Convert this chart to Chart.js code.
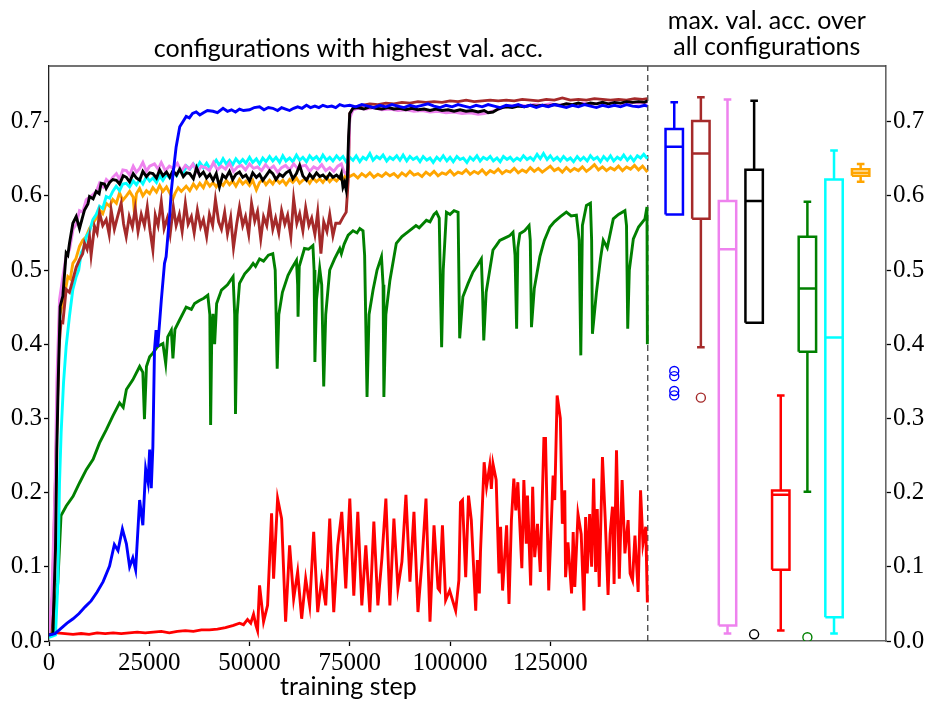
<!DOCTYPE html>
<html>
<head>
<meta charset="utf-8">
<title>val. acc.</title>
<script src="https://cdn.jsdelivr.net/npm/chart.js@4.4.1/dist/chart.umd.min.js"></script>
<style>
  html, body { margin: 0; padding: 0; background: #fff; }
  canvas { display: block; }
</style>
</head>
<body>
<canvas id="chart" width="936" height="713"></canvas>
<script>
// ---- data ----
const LEFT_TITLE = 'configurations with highest val. acc.';
const RIGHT_TITLE = ['max. val. acc. over', 'all configurations'];
const X_TITLE = 'training step';
const X_TICKS = [0, 25000, 50000, 75000, 100000, 125000];
const Y_TICKS = [0, 0.1, 0.2, 0.3, 0.4, 0.5, 0.6, 0.7];

// [training step, val. acc.]
const BLUE = [[0,0.008],[1500,0.010],[3000,0.017],[4500,0.024],[6000,0.030],[7500,0.037],[9000,0.046],[10500,0.054],[12000,0.066],[13500,0.080],[15100,0.101],[16300,0.130],[17200,0.122],[18300,0.151],[19300,0.131],[20100,0.100],[20900,0.112],[21600,0.096],[22600,0.190],[23400,0.156],[24100,0.232],[24700,0.214],[25100,0.258],[25500,0.206],[25900,0.262],[26300,0.392],[26700,0.419],[27100,0.396],[28000,0.459],[28800,0.509],[29200,0.518],[30100,0.575],[30500,0.607],[30900,0.628],[31700,0.666],[32600,0.693],[33500,0.701],[34200,0.707],[35000,0.705],[35800,0.711],[36700,0.713],[37600,0.709],[38500,0.712],[39500,0.715],[40900,0.714],[42000,0.712],[43400,0.718],[44500,0.714],[45500,0.716],[46500,0.713],[47500,0.717],[48500,0.715],[50000,0.716],[51200,0.719],[52500,0.720],[53600,0.716],[54700,0.719],[55800,0.718],[57000,0.715],[58000,0.719],[59000,0.717],[60000,0.715],[61000,0.718],[62000,0.720],[63100,0.718],[64200,0.722],[65200,0.719],[66300,0.721],[67300,0.719],[68300,0.722],[69400,0.720],[70500,0.721],[71500,0.719],[72500,0.723],[73600,0.721],[75000,0.722],[76500,0.720],[78000,0.723],[79500,0.721],[81000,0.719],[82500,0.722],[84000,0.720],[85500,0.723],[87000,0.721],[88500,0.719],[90000,0.722],[91500,0.720],[93000,0.722],[94500,0.724],[96000,0.721],[97500,0.719],[99000,0.722],[100500,0.720],[102000,0.723],[103500,0.721],[105000,0.719],[106500,0.722],[108000,0.720],[109500,0.723],[111000,0.721],[112500,0.719],[114000,0.722],[115500,0.721],[117000,0.723],[118500,0.720],[120000,0.722],[121500,0.719],[123000,0.722],[124500,0.720],[126000,0.723],[127500,0.721],[129000,0.719],[130500,0.722],[132000,0.720],[133500,0.723],[135000,0.721],[136500,0.719],[138000,0.722],[139500,0.720],[141000,0.722],[142500,0.720],[144000,0.723],[145500,0.721],[147000,0.720],[148500,0.722],[149200,0.721]];

const BROWN = [[0,0.008],[700,0.030],[1170,0.124],[1790,0.258],[2450,0.393],[3000,0.430],[3450,0.429],[4280,0.474],[5100,0.470],[5950,0.487],[6800,0.504],[7610,0.514],[8400,0.522],[8860,0.536],[9500,0.528],[10100,0.545],[10500,0.520],[11350,0.559],[12000,0.550],[12600,0.577],[13400,0.560],[14260,0.568],[15000,0.548],[15500,0.581],[16300,0.555],[17000,0.570],[17990,0.590],[18600,0.562],[19250,0.545],[20000,0.572],[20800,0.558],[21500,0.583],[22200,0.552],[23000,0.575],[23800,0.560],[24500,0.585],[25200,0.553],[25900,0.527],[26500,0.574],[27200,0.560],[28000,0.592],[28700,0.556],[29500,0.570],[30200,0.548],[31000,0.585],[31700,0.560],[32500,0.575],[33200,0.552],[34000,0.590],[34700,0.562],[35500,0.572],[36200,0.550],[37000,0.581],[37800,0.558],[38500,0.568],[39300,0.545],[40000,0.575],[40800,0.560],[41500,0.595],[42300,0.565],[43000,0.555],[43800,0.578],[44500,0.549],[45300,0.571],[46000,0.530],[46800,0.562],[47500,0.585],[48300,0.560],[49000,0.572],[49800,0.548],[50500,0.590],[51300,0.566],[52000,0.579],[52800,0.542],[53500,0.572],[54300,0.560],[55000,0.587],[55800,0.555],[56500,0.570],[57300,0.550],[58000,0.580],[58800,0.562],[59500,0.574],[60300,0.545],[61000,0.596],[61800,0.563],[62500,0.576],[63300,0.553],[64000,0.584],[64800,0.560],[65500,0.570],[66300,0.548],[67000,0.578],[67800,0.522],[68500,0.565],[69300,0.552],[70000,0.575],[70800,0.546],[71500,0.563],[72500,0.563],[73300,0.571],[74100,0.578],[74600,0.621],[75000,0.711],[75800,0.718],[76600,0.720],[78000,0.722],[80000,0.724],[82000,0.723],[84000,0.725],[86000,0.724],[88000,0.726],[90000,0.725],[92000,0.727],[94000,0.726],[96000,0.727],[98000,0.726],[100000,0.728],[102000,0.727],[104000,0.729],[106000,0.727],[108000,0.728],[110000,0.729],[112000,0.728],[114000,0.729],[116000,0.728],[118000,0.730],[120000,0.729],[122000,0.728],[124000,0.730],[126000,0.729],[128000,0.732],[130000,0.729],[132000,0.730],[134000,0.729],[136000,0.731],[138000,0.730],[140000,0.729],[142000,0.730],[144000,0.729],[146000,0.731],[148000,0.730],[149200,0.731]];

const VIOLET = [[0,0.008],[700,0.060],[1540,0.213],[1950,0.348],[2620,0.460],[3450,0.491],[4300,0.520],[5100,0.527],[6000,0.555],[6800,0.562],[7600,0.580],[8400,0.578],[9280,0.595],[10100,0.598],[11000,0.602],[11800,0.606],[12600,0.617],[13500,0.612],[14300,0.622],[15100,0.618],[15900,0.625],[16800,0.630],[17600,0.622],[18400,0.635],[19300,0.634],[20100,0.628],[21000,0.640],[21800,0.632],[22600,0.637],[23400,0.645],[24300,0.633],[25100,0.640],[26300,0.643],[27200,0.636],[28000,0.645],[29000,0.634],[30000,0.640],[31000,0.637],[32000,0.644],[33000,0.633],[34000,0.641],[35000,0.636],[35900,0.643],[37000,0.632],[38000,0.640],[39000,0.638],[40000,0.634],[41000,0.645],[42000,0.635],[43000,0.640],[44000,0.636],[45000,0.644],[46000,0.633],[47000,0.639],[48000,0.641],[49000,0.635],[50000,0.643],[51000,0.637],[52000,0.639],[53000,0.634],[54000,0.642],[55000,0.636],[56000,0.640],[57000,0.632],[58000,0.638],[59000,0.641],[60000,0.635],[61000,0.643],[62000,0.637],[63000,0.640],[64000,0.641],[65000,0.633],[66000,0.639],[67000,0.636],[68000,0.642],[69000,0.634],[70000,0.638],[71000,0.633],[72000,0.640],[72900,0.643],[73600,0.632],[74300,0.628],[74700,0.660],[75000,0.705],[75800,0.716],[77000,0.718],[79000,0.717],[81000,0.719],[83000,0.716],[85000,0.717],[87000,0.715],[89000,0.716],[91000,0.714],[93000,0.715],[95000,0.713],[97000,0.714],[99000,0.712],[101000,0.713],[103000,0.711],[105000,0.712],[107000,0.710],[108500,0.711],[110000,0.713],[111500,0.716],[113000,0.719],[115000,0.721],[117000,0.722],[119000,0.721],[121000,0.723],[123000,0.722],[125000,0.724],[127000,0.722],[129000,0.724],[131000,0.723],[133000,0.725],[135000,0.723],[137000,0.725],[139000,0.724],[141000,0.726],[143000,0.724],[145000,0.726],[147000,0.725],[149200,0.726]];

const BLACK = [[0,0.008],[960,0.010],[1620,0.124],[1950,0.258],[2290,0.348],[2790,0.451],[3450,0.465],[4280,0.523],[4700,0.520],[5110,0.536],[5950,0.563],[6780,0.572],[7610,0.556],[8300,0.570],[8860,0.581],[9700,0.589],[10100,0.599],[11000,0.596],[11770,0.606],[12500,0.603],[13000,0.617],[13800,0.616],[14260,0.610],[15100,0.618],[15920,0.622],[16800,0.621],[17600,0.616],[18500,0.627],[19300,0.625],[20100,0.619],[21000,0.630],[21800,0.624],[22600,0.621],[23400,0.633],[24300,0.626],[25100,0.631],[25900,0.630],[26800,0.624],[27600,0.635],[28400,0.627],[29300,0.632],[30100,0.625],[30900,0.634],[31800,0.628],[32600,0.636],[33500,0.626],[34300,0.631],[35100,0.630],[36000,0.623],[36800,0.638],[37600,0.627],[38500,0.632],[39300,0.624],[40100,0.629],[40900,0.621],[41700,0.630],[42500,0.612],[43300,0.628],[44100,0.624],[45000,0.633],[45800,0.622],[46600,0.629],[47500,0.632],[48300,0.625],[49100,0.628],[50000,0.620],[50800,0.631],[51700,0.625],[52500,0.629],[53300,0.621],[54100,0.627],[55000,0.634],[55800,0.630],[56600,0.622],[57500,0.629],[58300,0.626],[59100,0.631],[60000,0.634],[60800,0.623],[61700,0.630],[62500,0.641],[63300,0.627],[64200,0.621],[65000,0.629],[65800,0.624],[66700,0.631],[67500,0.626],[68300,0.628],[69200,0.623],[70000,0.630],[70800,0.625],[71700,0.628],[72500,0.624],[72900,0.630],[73300,0.612],[73700,0.618],[74100,0.608],[74400,0.625],[74700,0.680],[75000,0.711],[75800,0.718],[77000,0.719],[78500,0.717],[80000,0.720],[81500,0.718],[83000,0.717],[84500,0.719],[86000,0.717],[87500,0.718],[89000,0.716],[90500,0.718],[92000,0.716],[93500,0.717],[95000,0.715],[96500,0.717],[98000,0.715],[99500,0.716],[101000,0.714],[102500,0.716],[104000,0.714],[105500,0.715],[107000,0.713],[108500,0.715],[109500,0.712],[110700,0.713],[112000,0.717],[113000,0.719],[114000,0.720],[115500,0.719],[117000,0.721],[118500,0.720],[120000,0.722],[121500,0.721],[123000,0.722],[124500,0.721],[126000,0.723],[127500,0.722],[129000,0.724],[130500,0.723],[132000,0.725],[133500,0.723],[135000,0.725],[136500,0.724],[138000,0.726],[139500,0.724],[141000,0.726],[142500,0.725],[144000,0.727],[145500,0.726],[147000,0.727],[148500,0.726],[149200,0.728]];

const RED = [[0,0.012],[2000,0.011],[4000,0.010],[6000,0.009],[8000,0.010],[10000,0.009],[12000,0.011],[14000,0.010],[16000,0.011],[18000,0.010],[20000,0.011],[22000,0.012],[24000,0.011],[26000,0.012],[28000,0.013],[30000,0.011],[32000,0.013],[34000,0.014],[36000,0.013],[38000,0.015],[40000,0.015],[42000,0.016],[44000,0.018],[46000,0.021],[47500,0.024],[48500,0.022],[49500,0.029],[50300,0.024],[51000,0.036],[51600,0.021],[52000,0.014],[52500,0.075],[53500,0.026],[54500,0.048],[55500,0.172],[56000,0.084],[57000,0.192],[58000,0.165],[59000,0.026],[60000,0.129],[61000,0.057],[62000,0.093],[63000,0.030],[64000,0.084],[65000,0.048],[66000,0.147],[67000,0.039],[68000,0.084],[69000,0.048],[70000,0.165],[71000,0.039],[72000,0.129],[73000,0.174],[74000,0.071],[75000,0.192],[76000,0.061],[77000,0.174],[78000,0.048],[79000,0.129],[80000,0.039],[81000,0.161],[82000,0.048],[83000,0.111],[84000,0.192],[85000,0.048],[86000,0.165],[87000,0.071],[88000,0.107],[89000,0.197],[90000,0.080],[91000,0.174],[92000,0.039],[93000,0.107],[94000,0.192],[95000,0.026],[96000,0.156],[97000,0.071],[97400,0.068],[98100,0.156],[98900,0.055],[99900,0.068],[101400,0.041],[102200,0.082],[102600,0.187],[103100,0.190],[103900,0.086],[104600,0.196],[105300,0.163],[106400,0.041],[106800,0.109],[107300,0.064],[107600,0.122],[108500,0.241],[109100,0.208],[109900,0.237],[110300,0.205],[110700,0.239],[111500,0.217],[112200,0.091],[112600,0.154],[113100,0.068],[114100,0.156],[114700,0.050],[115300,0.163],[115900,0.219],[116400,0.176],[116900,0.214],[117900,0.098],[118400,0.217],[119000,0.131],[119300,0.196],[120100,0.075],[120600,0.208],[121100,0.113],[121800,0.158],[122500,0.093],[123400,0.273],[123800,0.273],[124600,0.068],[125700,0.223],[126100,0.190],[126700,0.331],[127500,0.300],[128000,0.158],[128600,0.203],[128800,0.086],[129400,0.133],[130300,0.064],[130700,0.147],[131100,0.073],[131900,0.171],[132700,0.144],[133400,0.041],[133800,0.167],[134200,0.091],[134800,0.171],[135300,0.100],[135800,0.219],[136300,0.093],[136700,0.178],[137200,0.073],[138000,0.248],[138700,0.163],[139400,0.062],[139900,0.144],[140500,0.181],[140900,0.077],[141500,0.257],[142200,0.084],[142900,0.217],[143600,0.118],[144400,0.163],[144900,0.091],[145500,0.082],[146100,0.142],[146900,0.066],[147500,0.203],[148100,0.131],[148800,0.154],[149200,0.052]];

const GREEN = [[0,0.005],[1000,0.010],[2200,0.079],[3000,0.169],[4300,0.182],[6000,0.195],[7600,0.213],[9300,0.231],[11000,0.245],[12600,0.267],[14300,0.285],[15900,0.303],[17600,0.321],[18500,0.315],[19300,0.339],[20900,0.352],[22600,0.370],[23400,0.362],[23800,0.299],[24300,0.370],[25100,0.383],[25900,0.388],[27100,0.397],[28400,0.401],[29100,0.374],[29600,0.410],[30500,0.419],[30900,0.381],[31400,0.420],[32500,0.432],[34200,0.450],[35500,0.447],[36300,0.455],[37500,0.459],[38600,0.462],[39600,0.466],[40100,0.440],[40300,0.291],[40600,0.420],[40900,0.441],[41300,0.400],[41800,0.455],[43000,0.473],[44500,0.480],[45900,0.491],[46300,0.440],[46500,0.306],[46900,0.440],[47500,0.482],[48800,0.495],[50000,0.502],[50900,0.509],[51500,0.505],[52500,0.515],[53500,0.512],[54700,0.520],[55800,0.522],[56400,0.500],[56900,0.367],[57300,0.440],[58200,0.470],[59600,0.493],[60500,0.502],[61700,0.513],[62000,0.480],[62100,0.437],[62400,0.505],[63700,0.529],[64700,0.528],[65800,0.533],[66100,0.500],[66300,0.376],[66700,0.460],[67500,0.502],[68000,0.480],[68500,0.343],[69000,0.440],[70000,0.500],[71200,0.515],[72500,0.529],[72900,0.522],[73600,0.535],[74600,0.547],[75800,0.553],[76800,0.550],[77500,0.556],[78300,0.553],[78700,0.520],[79300,0.329],[79800,0.440],[80800,0.473],[81800,0.500],[82900,0.518],[83300,0.480],[83500,0.329],[84000,0.440],[85000,0.486],[86600,0.536],[88000,0.545],[89900,0.553],[91500,0.560],[92300,0.557],[94100,0.567],[95000,0.565],[96000,0.575],[96600,0.578],[97300,0.570],[97700,0.450],[97900,0.396],[98300,0.500],[99100,0.578],[100000,0.575],[101000,0.580],[102000,0.578],[102400,0.408],[103200,0.464],[104500,0.482],[105700,0.497],[106800,0.506],[107800,0.515],[108100,0.470],[108400,0.405],[109000,0.470],[110700,0.527],[111500,0.533],[112400,0.540],[113600,0.543],[114800,0.546],[115700,0.551],[116200,0.520],[116600,0.421],[116900,0.530],[117400,0.549],[118600,0.553],[119700,0.560],[120000,0.540],[120300,0.423],[121000,0.475],[122400,0.518],[123500,0.540],[124900,0.558],[126000,0.565],[127500,0.572],[129000,0.578],[130200,0.573],[131500,0.574],[132200,0.540],[132600,0.385],[133000,0.560],[134000,0.587],[135000,0.590],[135300,0.540],[135500,0.414],[136500,0.470],[137500,0.515],[138200,0.540],[139200,0.530],[140700,0.569],[142000,0.575],[143600,0.580],[144000,0.560],[144300,0.421],[144700,0.500],[145700,0.542],[147000,0.558],[148600,0.569],[149100,0.585],[149200,0.400]];

const CYAN = [[0,0.005],[1620,0.008],[2200,0.079],[2620,0.213],[3030,0.281],[3620,0.348],[4280,0.397],[5110,0.438],[5950,0.474],[6780,0.491],[7400,0.500],[8030,0.523],[8700,0.530],[9280,0.545],[10100,0.552],[10940,0.568],[11800,0.575],[12600,0.586],[13400,0.583],[14260,0.599],[15100,0.597],[15900,0.606],[16750,0.613],[17600,0.607],[18400,0.616],[19250,0.617],[20100,0.612],[21000,0.620],[21800,0.615],[22590,0.622],[23400,0.616],[24300,0.626],[25100,0.620],[25920,0.624],[26800,0.618],[27600,0.627],[28400,0.621],[29300,0.629],[30100,0.624],[30900,0.632],[31800,0.627],[32600,0.636],[33500,0.631],[34300,0.640],[35100,0.636],[36000,0.643],[36800,0.637],[37600,0.645],[38500,0.638],[39300,0.644],[40100,0.637],[40900,0.642],[41700,0.648],[42500,0.641],[43400,0.650],[44200,0.643],[45000,0.648],[45800,0.642],[46600,0.650],[47500,0.644],[48300,0.649],[49100,0.644],[50000,0.652],[50800,0.645],[51700,0.650],[52500,0.643],[53300,0.651],[54100,0.646],[55000,0.653],[55800,0.647],[56600,0.652],[57500,0.645],[58300,0.654],[59100,0.647],[60000,0.651],[60800,0.646],[61700,0.655],[62500,0.648],[63300,0.652],[64200,0.646],[65000,0.654],[65800,0.649],[66700,0.653],[67500,0.647],[68300,0.655],[69200,0.648],[70000,0.652],[70800,0.647],[71700,0.654],[72500,0.649],[73300,0.653],[74100,0.646],[75000,0.652],[75800,0.648],[76600,0.654],[77500,0.646],[78300,0.652],[79100,0.649],[80000,0.657],[80800,0.648],[81700,0.653],[82500,0.650],[83300,0.655],[84200,0.647],[85000,0.652],[85800,0.649],[86700,0.654],[87500,0.648],[88300,0.655],[89200,0.647],[90000,0.653],[90800,0.649],[91700,0.652],[92500,0.646],[93300,0.653],[94200,0.648],[95000,0.651],[95800,0.645],[96700,0.652],[97500,0.648],[98300,0.654],[99200,0.647],[100000,0.652],[100800,0.646],[101700,0.653],[102500,0.649],[103300,0.651],[104200,0.645],[105000,0.652],[105800,0.648],[106700,0.654],[107500,0.647],[108300,0.652],[109200,0.649],[110000,0.653],[110800,0.647],[111700,0.651],[112500,0.646],[113300,0.653],[114200,0.649],[115000,0.652],[115800,0.647],[116700,0.651],[117500,0.648],[118300,0.654],[119200,0.649],[120000,0.652],[120800,0.648],[121700,0.656],[122500,0.650],[123300,0.657],[124200,0.649],[125000,0.654],[125800,0.648],[126700,0.652],[127500,0.647],[128300,0.653],[129200,0.648],[130000,0.651],[130800,0.646],[131700,0.653],[132500,0.648],[133300,0.652],[134200,0.647],[135000,0.654],[135800,0.649],[136700,0.652],[137500,0.646],[138300,0.653],[139200,0.648],[140000,0.654],[140800,0.647],[141700,0.652],[142500,0.649],[143300,0.655],[144200,0.648],[145000,0.653],[145800,0.647],[146700,0.654],[147500,0.651],[148300,0.656],[149200,0.650]];

const ORANGE = [[0,0.005],[1000,0.020],[1620,0.169],[1950,0.303],[2620,0.438],[3400,0.455],[4000,0.470],[4700,0.491],[5300,0.488],[5950,0.509],[6700,0.515],[7610,0.532],[8400,0.540],[9280,0.545],[10100,0.556],[10940,0.563],[11800,0.570],[12600,0.581],[13400,0.576],[14260,0.590],[15100,0.586],[15900,0.595],[16800,0.590],[17590,0.604],[18400,0.594],[19300,0.600],[20100,0.606],[21000,0.598],[21300,0.577],[21800,0.603],[22600,0.610],[23400,0.600],[24300,0.607],[25100,0.603],[25900,0.611],[26800,0.605],[27600,0.614],[28400,0.606],[29300,0.612],[30100,0.604],[30900,0.596],[31400,0.603],[32200,0.611],[33000,0.606],[34200,0.613],[35100,0.607],[36000,0.616],[36800,0.610],[37600,0.617],[38500,0.611],[39200,0.620],[40100,0.613],[40900,0.618],[41700,0.612],[42500,0.619],[43400,0.614],[44200,0.621],[45000,0.615],[45800,0.620],[46600,0.613],[47500,0.622],[48300,0.616],[49100,0.620],[50000,0.614],[50800,0.621],[51700,0.608],[52500,0.618],[53300,0.622],[54100,0.615],[55000,0.621],[55800,0.616],[56600,0.623],[57500,0.617],[58300,0.621],[59100,0.615],[60000,0.622],[60800,0.618],[61700,0.624],[62500,0.617],[63300,0.621],[64200,0.623],[65000,0.617],[65800,0.624],[66700,0.619],[67500,0.623],[68300,0.618],[69200,0.625],[70000,0.619],[70800,0.624],[71700,0.620],[72500,0.625],[73300,0.619],[74100,0.630],[75000,0.626],[76000,0.629],[77000,0.624],[78000,0.630],[79000,0.626],[80000,0.631],[81000,0.625],[82000,0.629],[83000,0.626],[84000,0.631],[85000,0.627],[86000,0.630],[87000,0.625],[88000,0.631],[89000,0.627],[90000,0.633],[91000,0.628],[92000,0.630],[93000,0.626],[94000,0.632],[95000,0.628],[96000,0.633],[97000,0.627],[98000,0.631],[99000,0.629],[100000,0.634],[101000,0.628],[102000,0.632],[103000,0.630],[104000,0.635],[105000,0.629],[106000,0.633],[107000,0.630],[108000,0.635],[109000,0.629],[110000,0.634],[111000,0.631],[112000,0.636],[113000,0.630],[114000,0.634],[115000,0.632],[116000,0.637],[117000,0.631],[118000,0.635],[119000,0.632],[120000,0.638],[121000,0.633],[122000,0.637],[123000,0.632],[124000,0.636],[125000,0.640],[126000,0.634],[127000,0.637],[128000,0.632],[129000,0.638],[130000,0.633],[131000,0.637],[132000,0.634],[133000,0.639],[134000,0.633],[135000,0.637],[136000,0.642],[137000,0.635],[138000,0.639],[139000,0.634],[140000,0.638],[141000,0.635],[142000,0.640],[143000,0.634],[144000,0.639],[145000,0.636],[146000,0.641],[147000,0.635],[148000,0.640],[149200,0.632]];

// box plot statistics, one entry per configuration (blue, brown, violet, black, red, green, cyan, orange)
const BOX_LOW    = [0.575, 0.396, 0.010, 0.429, 0.014, 0.201, 0.010, 0.619];
const BOX_Q1     = [0.575, 0.569, 0.021, 0.429, 0.096, 0.390, 0.032, 0.627];
const BOX_MEDIAN = [0.666, 0.657, 0.528, 0.593, 0.197, 0.475, 0.409, 0.631];
const BOX_Q3     = [0.690, 0.701, 0.593, 0.635, 0.203, 0.545, 0.622, 0.636];
const BOX_HIGH   = [0.726, 0.733, 0.730, 0.728, 0.331, 0.592, 0.661, 0.643];
const BOX_FLIERS = [[0.364, 0.357, 0.337, 0.331], [0.328], [], [0.009], [], [0.005], [], []];

// ---- layout / style ----
const COLORS = ['#0000ff', '#a52a2a', '#ee82ee', '#000000', '#ff0000', '#008000', '#00ffff', '#ffa500'];
const RUNS = [BLUE, BROWN, VIOLET, BLACK, RED, GREEN, CYAN, ORANGE];
// drawing order, top line first (Chart.js paints dataset 0 last)
const STACK = [0, 3, 2, 1, 6, 7, 5, 4];
const X_MAX = 208700;
const Y_MAX = 0.775;
const DIVIDER = 149300;
const BOX_FIRST = 155900, BOX_GAP = 6640, BOX_HALF = 2170, CAP_HALF = 950;
const TICK_FONT = {family: '"Liberation Serif", "Times New Roman", serif', size: 25};
const TEXT_FONT = '25px Lato, "Open Sans", sans-serif';

const toXY = run => run.map(([x, y]) => ({x, y}));

function boxPath(i) {
  const c = BOX_FIRST + i * BOX_GAP;
  const gap = {x: c, y: null};
  const lo = BOX_LOW[i], q1 = BOX_Q1[i], med = BOX_MEDIAN[i], q3 = BOX_Q3[i], hi = BOX_HIGH[i];
  return [
    {x: c - BOX_HALF, y: q1}, {x: c + BOX_HALF, y: q1}, {x: c + BOX_HALF, y: q3},
    {x: c - BOX_HALF, y: q3}, {x: c - BOX_HALF, y: q1}, gap,
    {x: c - BOX_HALF, y: med}, {x: c + BOX_HALF, y: med}, gap,
    {x: c, y: q3}, {x: c, y: hi}, gap,
    {x: c - CAP_HALF, y: hi}, {x: c + CAP_HALF, y: hi}, gap,
    {x: c, y: q1}, {x: c, y: lo}, gap,
    {x: c - CAP_HALF, y: lo}, {x: c + CAP_HALF, y: lo}
  ];
}

const datasets = STACK.map(i => ({
  data: toXY(RUNS[i]), borderColor: COLORS[i], borderWidth: 2.9,
  pointRadius: 0, tension: 0
}));
COLORS.forEach((col, i) => {
  datasets.push({
    data: boxPath(i), borderColor: col, borderWidth: 2.5,
    pointRadius: 0, spanGaps: false, borderJoinStyle: 'miter'
  });
  if (BOX_FLIERS[i].length) {
    datasets.push({
      data: BOX_FLIERS[i].map(v => ({x: BOX_FIRST + i * BOX_GAP, y: v})),
      showLine: false, pointRadius: 4.5, pointBorderWidth: 1.4,
      pointBorderColor: col, pointBackgroundColor: 'rgba(0,0,0,0)'
    });
  }
});
datasets.push({
  data: [{x: DIVIDER, y: 0}, {x: DIVIDER, y: Y_MAX}],
  borderColor: '#333', borderWidth: 1.2, borderDash: [6, 4], pointRadius: 0
});

const titles = {
  id: 'titles',
  afterDraw(chart) {
    const {ctx, chartArea: a, scales: {x}} = chart;
    ctx.save();
    ctx.strokeStyle = '#444';
    ctx.lineWidth = 1.3;
    ctx.beginPath();
    ctx.moveTo(a.left, a.top);
    ctx.lineTo(a.right, a.top);
    ctx.stroke();
    const leftMid = (x.getPixelForValue(0) + x.getPixelForValue(DIVIDER)) / 2;
    const rightMid = (x.getPixelForValue(DIVIDER) + a.right) / 2;
    ctx.fillStyle = '#000';
    ctx.textAlign = 'center';
    ctx.textBaseline = 'alphabetic';
    ctx.font = TEXT_FONT;
    ctx.fillText(LEFT_TITLE, leftMid, 57);
    ctx.fillText(RIGHT_TITLE[0], rightMid, 29);
    ctx.fillText(RIGHT_TITLE[1], rightMid, 55);
    ctx.fillText(X_TITLE, leftMid, 695);
    ctx.restore();
  }
};

const yTicks = scale => { scale.ticks = Y_TICKS.map(v => ({value: v})); };
const tickGrid = {drawOnChartArea: false, drawTicks: true, tickLength: 5, tickColor: '#000', tickWidth: 1.3};

new Chart(document.getElementById('chart'), {
  type: 'line',
  data: {datasets},
  plugins: [titles],
  options: {
    responsive: false,
    animation: false,
    devicePixelRatio: 1,
    layout: {padding: {top: 66, left: 0, right: 0, bottom: 0}},
    plugins: {legend: {display: false}, tooltip: {enabled: false}},
    scales: {
      x: {
        type: 'linear', min: 0, max: X_MAX,
        afterBuildTicks: s => { s.ticks = X_TICKS.map(v => ({value: v})); },
        afterFit: s => { s.height = 72; },
        ticks: {font: TICK_FONT, color: '#000', padding: 2, maxRotation: 0, callback: v => String(v)},
        grid: tickGrid,
        border: {color: '#666', width: 1.6}
      },
      y: {
        position: 'left', min: 0, max: Y_MAX,
        afterBuildTicks: yTicks,
        afterFit: s => { s.width = 49; },
        ticks: {font: TICK_FONT, color: '#000', padding: 2, callback: v => v.toFixed(1)},
        grid: tickGrid,
        border: {color: '#222', width: 1.3}
      },
      y2: {
        position: 'right', min: 0, max: Y_MAX,
        afterBuildTicks: yTicks,
        afterFit: s => { s.width = 50; },
        ticks: {font: TICK_FONT, color: '#000', padding: 2, callback: v => v.toFixed(1)},
        grid: tickGrid,
        border: {color: '#666', width: 1.6}
      }
    }
  }
});
</script>
</body>
</html>
